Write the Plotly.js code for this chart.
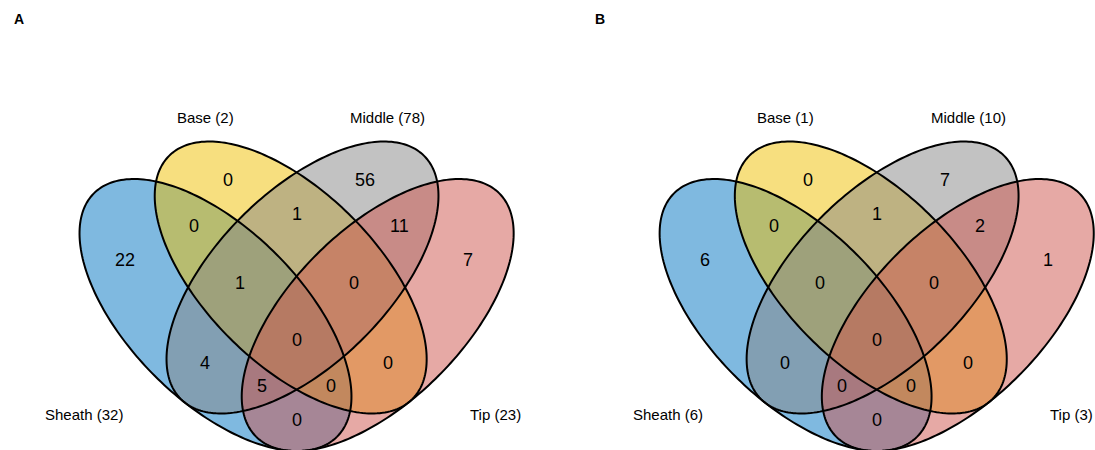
<!DOCTYPE html>
<html>
<head>
<meta charset="utf-8">
<script src="https://cdn.plot.ly/plotly-3.0.1.min.js"></script>
<style>html,body{margin:0;padding:0;background:#fff;}#chart{width:1095px;height:450px;}</style>
</head>
<body>
<div id="chart"></div>
<script>
// ---- data ----
const setNames = ["Sheath", "Base", "Middle", "Tip"];
const setColors = ["#0073C2", "#EFC000", "#868686", "#CD534C"];
const panelLetters = ["A", "B"];
// region membership (which sets), in a fixed order
const regions = [
  ["Sheath"], ["Base"], ["Middle"], ["Tip"],
  ["Sheath","Base"], ["Base","Middle"], ["Middle","Tip"],
  ["Sheath","Base","Middle"], ["Base","Middle","Tip"],
  ["Sheath","Base","Middle","Tip"],
  ["Sheath","Middle"], ["Base","Tip"],
  ["Sheath","Middle","Tip"], ["Sheath","Base","Tip"],
  ["Sheath","Tip"]
];
const countsA = [22, 0, 56, 7, 0, 1, 11, 1, 0, 0, 4, 0, 5, 0, 0];
const countsB = [6, 0, 7, 1, 0, 1, 2, 0, 0, 0, 0, 0, 0, 0, 0];

// ---- layout geometry (offsets from each panel's centre line, y downward) ----
const ELL = {a: 172, b: 86};
const ellipses = [
  {cx: -81.1, cy: 315, rot: 45},   // Sheath
  {cx: -5.9,  cy: 277.5, rot: 45}, // Base
  {cx: 5.9,   cy: 277.5, rot: 135},// Middle
  {cx: 81.1,  cy: 315, rot: 135}   // Tip
];
const regionPos = [
  [-171.7, 259.5], [-68.4, 179.5], [68.3, 179.5], [171.3, 259.5],
  [-103, 225.5], [0, 214], [103, 225.5],
  [-57, 282.5], [57, 282.5],
  [0, 339.5],
  [-91.7, 363], [91.7, 363],
  [-34.5, 386], [34.5, 386],
  [0, 419.5]
];
const labelPos = [
  {x: -172, y: 414, anchor: "right"},
  {x: -91.6, y: 117, anchor: "center"},
  {x: 91.3, y: 117, anchor: "center"},
  {x: 171, y: 414, anchor: "left"}
];

function hexA(hex, al) {
  const r = parseInt(hex.slice(1,3),16), g = parseInt(hex.slice(3,5),16), b = parseInt(hex.slice(5,7),16);
  return `rgba(${r},${g},${b},${al})`;
}
function ellPath(e) {
  const th = e.rot * Math.PI / 180, N = 240;
  let d = "";
  for (let i = 0; i < N; i++) {
    const t = 2 * Math.PI * i / N;
    const x = e.cx + ELL.a * Math.cos(t) * Math.cos(th) - ELL.b * Math.sin(t) * Math.sin(th);
    const y = e.cy + ELL.a * Math.cos(t) * Math.sin(th) + ELL.b * Math.sin(t) * Math.cos(th);
    d += (i === 0 ? "M" : "L") + x.toFixed(2) + "," + y.toFixed(2);
  }
  return d + "Z";
}

const FONT = "Liberation Sans, Arial, sans-serif";
const shapes = [], annotations = [];
const panels = [{counts: countsA, xref: "x"}, {counts: countsB, xref: "x2"}];
panels.forEach((p, pi) => {
  ellipses.forEach((e, i) => {
    shapes.push({type: "path", path: ellPath(e), xref: p.xref, yref: "y",
      fillcolor: hexA(setColors[i], 0.5), line: {width: 0}, layer: "above"});
  });
  ellipses.forEach((e) => {
    shapes.push({type: "path", path: ellPath(e), xref: p.xref, yref: "y",
      fillcolor: "rgba(0,0,0,0)", line: {width: 2, color: "#000"}, layer: "above"});
  });
  regions.forEach((r, ri) => {
    annotations.push({x: regionPos[ri][0], y: regionPos[ri][1], xref: p.xref, yref: "y",
      text: String(p.counts[ri]), showarrow: false, xanchor: "center", yanchor: "middle",
      font: {family: FONT, size: 18, color: "#000"}});
  });
  setNames.forEach((s, si) => {
    const total = regions.reduce((acc, r, ri) => acc + (r.includes(s) ? p.counts[ri] : 0), 0);
    const lp = labelPos[si];
    annotations.push({x: lp.x, y: lp.y, xref: p.xref, yref: "y",
      text: `${s} (${total})`, showarrow: false, xanchor: lp.anchor, yanchor: "middle",
      font: {family: FONT, size: 15, color: "#000"}});
  });
  annotations.push({x: pi === 0 ? 11.7 / 1095 : 593.3 / 1095, y: 1 - 18.7 / 450,
    xref: "paper", yref: "paper", text: "<b>" + panelLetters[pi] + "</b>", showarrow: false,
    xanchor: "left", yanchor: "middle", font: {family: FONT, size: 14, color: "#000"}});
});

const layout = {
  width: 1095, height: 450,
  margin: {l: 0, r: 0, t: 0, b: 0},
  paper_bgcolor: "#fff", plot_bgcolor: "#fff",
  showlegend: false,
  xaxis: {domain: [0, 0.5], range: [-296.6, 250.9], visible: false, fixedrange: true},
  xaxis2: {domain: [0.5, 1], range: [-329.2, 218.3], visible: false, fixedrange: true, anchor: "y"},
  yaxis: {range: [450, 0], visible: false, fixedrange: true},
  shapes: shapes,
  annotations: annotations
};
Plotly.newPlot("chart", [], layout, {staticPlot: true, displayModeBar: false});
</script>
</body>
</html>
